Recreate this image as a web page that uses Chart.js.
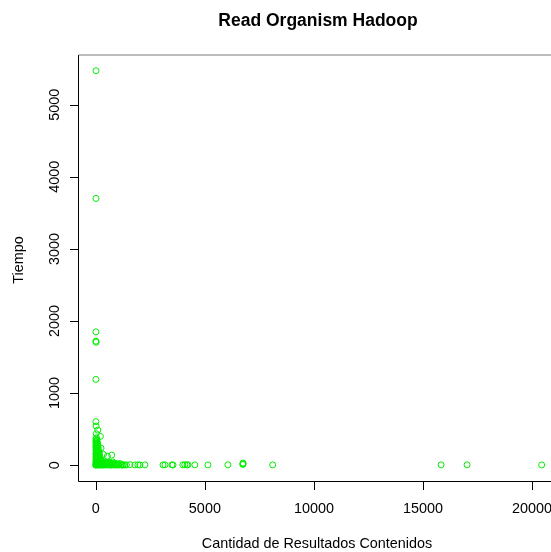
<!DOCTYPE html>
<html lang="es">

<head>
    <meta charset="UTF-8">
    <title>Read Organism Hadoop</title>
    <script src="https://cdn.jsdelivr.net/npm/chart.js"></script>
    <style>
        html, body { margin: 0; padding: 0; background: #fff; overflow: hidden; }
        #wrap { width: 551px; height: 552px; overflow: hidden; }
    </style>
</head>

<body>
    <div id="wrap">
        <canvas id="grafico" width="580" height="552"></canvas>
    </div>
    <script>
        const titulo = 'Read Organism Hadoop';
        const ejeX = 'Cantidad de Resultados Contenidos';
        const ejeY = 'Tiempo';
        const ticksX = [0, 5000, 10000, 15000, 20000];
        const ticksY = [0, 1000, 2000, 3000, 4000, 5000];

        // cantidad de resultados (x) y tiempo (y) de cada lectura
        const resultados = [
            10, 8, 5, 6, 12, 4, 3, 15, 90, 20, 210, 240, 730, 530, 350,
            30, 5, 60, 12, 40, 2, 80, 20, 50, 8, 100, 35, 3, 70, 15, 120, 45, 6, 90, 25,
            140, 55, 10, 160, 75, 2, 110, 30, 180, 50, 5, 200, 85, 18, 150, 40, 250, 4,
            120, 65, 300, 10, 180, 35, 400, 1, 90, 500, 22, 260, 3, 150, 1,
            220, 380, 450, 560, 650, 780,
            100, 200, 320, 440, 550, 680, 760, 880, 980, 1100,
            60, 160, 280, 350, 480, 600, 700, 820, 900, 1020, 1150, 1250,
            120, 240, 330, 420, 530, 640, 720, 850, 950, 1050, 1200, 1320,
            1400, 1560, 1790, 1930, 2020, 2250, 3080, 3170, 3490, 3540, 3990, 4080,
            4180, 4220, 4540, 5140, 6055, 6740, 6750, 6745, 8110, 15830, 17020, 20440
        ];
        const tiempo = [
            5470, 3700, 1850, 1720, 1705, 1190, 604, 543, 487, 437, 400, 237, 140, 125, 150,
            380, 365, 350, 340, 330, 320, 310, 300, 290, 280, 270, 262, 255, 245, 238, 228, 220, 212, 205, 196,
            188, 180, 172, 165, 158, 150, 142, 135, 128, 120, 112, 105, 98, 92, 86, 80, 74, 68,
            62, 56, 50, 45, 40, 35, 30, 25, 20, 16, 12, 8, 4, 2, 0,
            42, 38, 45, 40, 36, 44,
            26, 24, 28, 22, 25, 27, 23, 26, 21, 24,
            12, 9, 11, 14, 10, 8, 12, 9, 11, 10, 8, 7,
            2, 3, 1, 4, 2, 3, 1, 2, 3, 2, 1, 3,
            5, 8, 4, 6, 3, 5, 4, 6, 5, 4, 5, 7,
            4, 6, 5, 4, 6, 10, 30, 20, 5, 5, 6, 4
        ];

        const puntos = resultados.map((x, i) => ({ x: x, y: tiempo[i] }));

        // rango con 4% extra a cada lado, como hace R
        function rango(v) {
            const min = Math.min(...v), max = Math.max(...v);
            const d = (max - min) * 0.04;
            return [min - d, max + d];
        }
        const rx = rango(resultados);
        const ry = rango(tiempo);

        const fuente = '"Liberation Sans", Arial, sans-serif';

        // ejes, marco y textos al estilo de R
        const estiloR = {
            id: 'estiloR',
            afterDraw(chart) {
                const ctx = chart.ctx;
                const a = chart.chartArea;
                const sx = chart.scales.x;
                const sy = chart.scales.y;
                ctx.save();
                ctx.strokeStyle = '#000';
                ctx.lineWidth = 1;

                // marco
                ctx.beginPath();
                ctx.moveTo(a.left + 0.5, a.top);
                ctx.lineTo(a.left + 0.5, a.bottom + 0.5);
                ctx.lineTo(a.right + 0.5, a.bottom + 0.5);
                ctx.lineTo(a.right + 0.5, a.top);
                ctx.stroke();
                ctx.strokeStyle = '#7a7a7a';
                ctx.beginPath();
                ctx.moveTo(a.left + 0.5, a.top);
                ctx.lineTo(a.right + 0.5, a.top);
                ctx.stroke();
                ctx.strokeStyle = '#000';

                ctx.fillStyle = '#000';
                ctx.font = '14.4px ' + fuente;

                // eje x
                ctx.beginPath();
                for (const t of ticksX) {
                    const px = Math.round(sx.getPixelForValue(t)) + 0.5;
                    ctx.moveTo(px, a.bottom);
                    ctx.lineTo(px, a.bottom + 9);
                }
                ctx.stroke();
                ctx.textAlign = 'center';
                ctx.textBaseline = 'alphabetic';
                for (const t of ticksX) {
                    ctx.fillText(String(t), sx.getPixelForValue(t), 513);
                }

                // eje y
                ctx.beginPath();
                for (const t of ticksY) {
                    const py = Math.round(sy.getPixelForValue(t)) + 0.5;
                    ctx.moveTo(a.left, py);
                    ctx.lineTo(a.left - 8, py);
                }
                ctx.stroke();
                for (const t of ticksY) {
                    ctx.save();
                    ctx.translate(58.5, sy.getPixelForValue(t));
                    ctx.rotate(-Math.PI / 2);
                    ctx.fillText(String(t), 0, 0);
                    ctx.restore();
                }

                // títulos
                ctx.fillText(ejeX, 317, 548);
                ctx.save();
                ctx.translate(23, 260);
                ctx.rotate(-Math.PI / 2);
                ctx.fillText(ejeY, 0, 0);
                ctx.restore();

                ctx.font = 'bold 17.5px ' + fuente;
                ctx.fillText(titulo, 318, 26);
                ctx.restore();
            }
        };

        new Chart(document.getElementById('grafico'), {
            type: 'scatter',
            data: {
                datasets: [{
                    data: puntos,
                    borderColor: '#00ee00',
                    backgroundColor: 'rgba(0,0,0,0)',
                    pointRadius: 3,
                    pointBorderWidth: 1,
                    pointHoverRadius: 3
                }]
            },
            options: {
                responsive: false,
                animation: false,
                layout: { padding: { left: 78, top: 55, right: 20.5, bottom: 71 } },
                scales: {
                    x: { type: 'linear', display: false, min: rx[0], max: rx[1] },
                    y: { type: 'linear', display: false, min: ry[0], max: ry[1] }
                },
                plugins: {
                    legend: { display: false },
                    tooltip: { enabled: false }
                }
            },
            plugins: [estiloR]
        });
    </script>
</body>

</html>
